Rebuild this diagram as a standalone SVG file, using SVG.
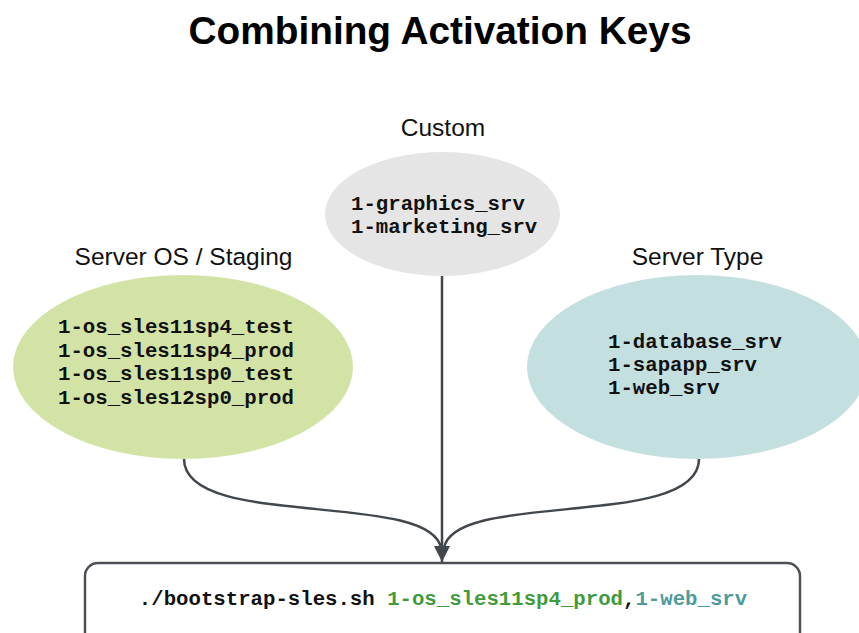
<svg xmlns="http://www.w3.org/2000/svg" width="859" height="633" viewBox="0 0 859 633">
  <defs>
    <style>
      .title { font-family: "Liberation Sans", Arial, sans-serif; font-weight: bold; font-size: 38.8px; fill: #000; }
      .label { font-family: "Liberation Sans", Arial, sans-serif; font-size: 24.5px; fill: #111; }
      .mono { font-family: "Liberation Mono", "Courier New", monospace; font-weight: bold; font-size: 20.7px; fill: #111; }
      .conn { fill: none; stroke: #41474d; stroke-width: 2.5; }
    </style>
    <marker id="arrow" markerWidth="20" markerHeight="16" refX="19" refY="9.5" viewBox="0 0 20 19" markerUnits="userSpaceOnUse" orient="auto">
      <path d="M0,0 L19,9.5 L0,19 Z" fill="#41474d"/>
    </marker>
  </defs>
  <rect width="859" height="633" fill="#ffffff"/>
  <text class="title" x="440" y="44" text-anchor="middle">Combining Activation Keys</text>

  <g id="connectors">
    <path class="conn" d="M184,459 C184,530 430,490 441,548"/>
    <path class="conn" d="M699,459 C699,530 454,490 444,548"/>
    <line class="conn" x1="442" y1="276" x2="442" y2="562" marker-end="url(#arrow)"/>
  </g>

  <g id="custom">
    <text class="label" x="443" y="136" text-anchor="middle">Custom</text>
    <ellipse cx="442.5" cy="214" rx="117.5" ry="62" fill="#e5e5e5"/>
    <text class="mono" x="351" y="210">1-graphics_srv</text>
    <text class="mono" x="351" y="233">1-marketing_srv</text>
  </g>

  <g id="server-os">
    <text class="label" x="183.5" y="265" text-anchor="middle">Server OS / Staging</text>
    <ellipse cx="183" cy="367" rx="170" ry="92" fill="#d3e3a6"/>
    <text class="mono" x="58" y="333">1-os_sles11sp4_test</text>
    <text class="mono" x="58" y="357">1-os_sles11sp4_prod</text>
    <text class="mono" x="58" y="380">1-os_sles11sp0_test</text>
    <text class="mono" x="58" y="404">1-os_sles12sp0_prod</text>
  </g>

  <g id="server-type">
    <text class="label" x="697.5" y="265" text-anchor="middle">Server Type</text>
    <ellipse cx="697" cy="367" rx="170" ry="92" fill="#c4dfe0"/>
    <text class="mono" x="608" y="348">1-database_srv</text>
    <text class="mono" x="608" y="371">1-sapapp_srv</text>
    <text class="mono" x="608" y="394">1-web_srv</text>
  </g>

  <g id="command">
    <rect x="85" y="563" width="715" height="90" rx="13" fill="#ffffff" stroke="#4a5055" stroke-width="2.5"/>
    <text class="mono" x="443" y="605" text-anchor="middle">./bootstrap-sles.sh <tspan fill="#3f9b3b">1-os_sles11sp4_prod</tspan>,<tspan fill="#4e9b9c">1-web_srv</tspan></text>
  </g>
</svg>
